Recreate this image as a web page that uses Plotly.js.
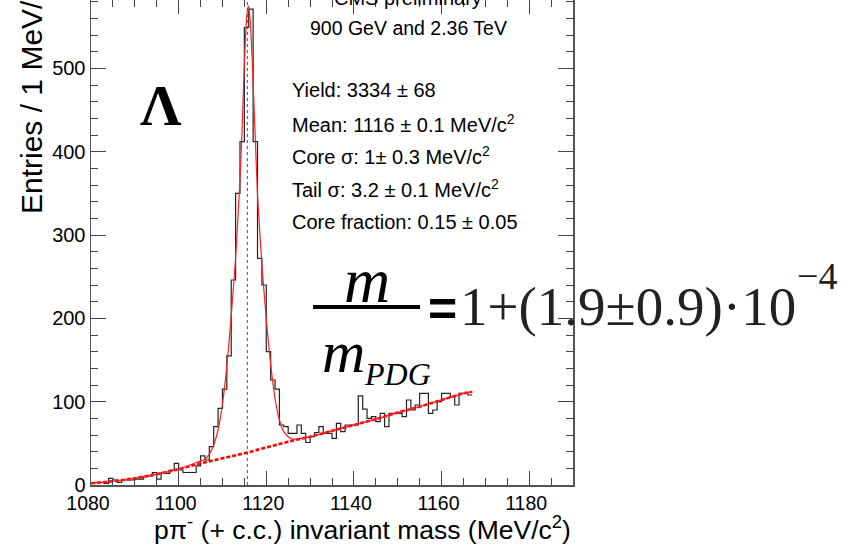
<!DOCTYPE html>
<html><head><meta charset="utf-8">
<script src="https://cdn.plot.ly/plotly-3.0.1.min.js"></script>
<style>html,body{margin:0;padding:0;background:#fff}#chart{width:850px;height:549px}</style>
</head><body><div id="chart"></div>
<script>
// ---- data ----
const massStart = 1080;   // lower edge of first bin (MeV/c^2)
const binWidth = 1;       // 1 MeV bins
const entries = [
  3,3,3,2,8,6,3,6,6,6,
  7,7,10,11,15,7,15,14,18,26,
  18,15,15,15,23,35,30,46,70,92,
  115,155,246,350,412,549,571,412,272,240,
  160,126,115,72,70,62,62,72,62,51,
  58,63,70,62,62,56,74,64,72,72,
  72,107,91,80,82,76,86,70,86,86,
  86,82,102,90,96,110,110,86,90,100,
  110,110,106,96,110,110,108
];
const fitMass  = [1080,1085,1090,1095,1100,1104,1106,1107,1108,1109,1110,1111,1112,1113,1114,1114.5,1115,1115.5,1115.9,1116.3,1116.7,1117,1117.5,1118,1119,1120,1121,1122,1123,1124,1125,1126,1128,1130,1135,1140,1145,1150,1155,1160,1165,1167];
const fitTotal = [2,4.5,8,13,19,27,31,37,48,66,97,143,203,273,366,430,505,560,575,560,520,482,415,348,265,199,145,104,78,64,58,55,56,58,65,72,79,87,94,102,110,112];
const bgMass   = [1080,1085,1090,1095,1100,1105,1110,1115,1120,1125,1130,1135,1140,1145,1150,1155,1160,1165,1167];
const bgValues = [2,4.5,8,13,19,26,32,38,45,52,58,65,72,79,87,94,102,110,112];
const pdgMass = 1115.683;
const xTicks = [1080,1100,1120,1140,1160,1180];
const yTicks = [0,100,200,300,400,500];
const statLines = [
  "Yield: 3334 ± 68",
  "Mean: 1116 ± 0.1 MeV/c<sup>2</sup>",
  "Core σ: 1± 0.3 MeV/c<sup>2</sup>",
  "Tail σ: 3.2 ± 0.1 MeV/c<sup>2</sup>",
  "Core fraction: 0.15 ± 0.05"
];

// ---- geometry helpers ----
const M = {l:91, r:277, t:0, b:64};
const W = 850, H = 549;
const PW = W - M.l - M.r, PH = H - M.t - M.b;
const px = v => (v - M.l) / PW;
const py = v => (H - M.b - v) / PH;
const yTop = 582;

// histogram step arrays
const edges = entries.map((_, i) => massStart + i * binWidth);
edges.push(massStart + entries.length * binWidth);
const stepY = entries.concat([entries[entries.length - 1]]);

const traces = [
  {x: edges, y: stepY, type:'scatter', mode:'lines', line:{shape:'hv', color:'#222', width:1.2}, hoverinfo:'skip'},
  {x: [pdgMass, pdgMass], y: [0, yTop], type:'scatter', mode:'lines', line:{color:'#4a4aff', width:1.1, dash:'dot'}},
  {x: bgMass, y: bgValues, type:'scatter', mode:'lines', line:{color:'#ff0000', width:2.6, dash:'4px,2px'}},
  {x: fitMass, y: fitTotal, type:'scatter', mode:'lines', line:{color:'#ff2020', width:1.2, shape:'spline', smoothing:0.6}}
];

const sans = 'Liberation Sans, Arial, sans-serif';
const serif = 'Liberation Serif, Times New Roman, serif';

const ann = [];
ann.push({xref:'paper', yref:'paper', x:px(161), y:py(105), text:'<b>Λ</b>', showarrow:false,
  font:{family:serif, size:58, color:'#000'}, xanchor:'center', yanchor:'middle'});
ann.push({xref:'paper', yref:'paper', x:px(408), y:py(-2), text:'CMS preliminary', showarrow:false,
  font:{family:sans, size:20, color:'#000'}, xanchor:'center', yanchor:'middle'});
ann.push({xref:'paper', yref:'paper', x:px(408), y:py(28), text:'900 GeV and 2.36 TeV', showarrow:false,
  font:{family:sans, size:19.5, color:'#000'}, xanchor:'center', yanchor:'middle'});
const statY = [90,123,156,189,222];
statLines.forEach((t, i) => ann.push({xref:'paper', yref:'paper', x:px(290), y:py(statY[i]), text:t, showarrow:false,
  font:{family:sans, size:20, color:'#000'}, xanchor:'left', yanchor:'middle'}));
// axis titles
ann.push({xref:'paper', yref:'paper', x:px(362), y:py(528), text:'pπ<sup>-</sup> (+ c.c.) invariant mass (MeV/c<sup>2</sup>)', showarrow:false,
  font:{family:sans, size:26.5, color:'#000'}, xanchor:'center', yanchor:'middle'});
ann.push({xref:'paper', yref:'paper', x:px(29), y:py(216), text:'Entries / 1 MeV/c<sup>2</sup>', showarrow:false, textangle:-90,
  font:{family:sans, size:30, color:'#000'}, xanchor:'center', yanchor:'bottom'});
// equation
ann.push({xref:'paper', yref:'paper', x:px(367), y:py(280), text:'<i>m</i>', showarrow:false,
  font:{family:serif, size:64, color:'#000'}, xanchor:'center', yanchor:'middle'});
ann.push({xref:'paper', yref:'paper', x:px(320), y:py(352), text:'<i>m</i>', showarrow:false,
  font:{family:serif, size:60, color:'#000'}, xanchor:'left', yanchor:'middle'});
ann.push({xref:'paper', yref:'paper', x:px(362), y:py(374), text:'<i>PDG</i>', showarrow:false,
  font:{family:serif, size:32, color:'#000'}, xanchor:'left', yanchor:'middle'});
ann.push({xref:'paper', yref:'paper', x:px(442), y:py(309), text:'<b>=</b>', showarrow:false,
  font:{family:sans, size:50, color:'#000'}, xanchor:'center', yanchor:'middle'});
ann.push({xref:'paper', yref:'paper', x:px(458), y:py(306), text:'1+(1.9±0.9)·10', showarrow:false,
  font:{family:serif, size:55, color:'#222'}, xanchor:'left', yanchor:'middle'});
ann.push({xref:'paper', yref:'paper', x:px(795), y:py(276), text:'−4', showarrow:false,
  font:{family:serif, size:38, color:'#222'}, xanchor:'left', yanchor:'middle'});

const layout = {
  width:W, height:H, margin:M, paper_bgcolor:'#fff', plot_bgcolor:'#fff', showlegend:false,
  xaxis:{range:[1080,1190], tickvals:xTicks, ticktext:xTicks.map(String), ticks:'inside', ticklen:14, tickwidth:1, tickcolor:'#444',
    minor:{dtick:5, ticks:'inside', ticklen:7, tickcolor:'#444', tickwidth:1, showgrid:false},
    showline:true, linecolor:'#555', linewidth:1.5, mirror:'ticks', showgrid:false, zeroline:false,
    ticklabelshift:-3,
    tickfont:{family:sans, size:19.5, color:'#000'}},
  yaxis:{range:[0,yTop], tickvals:yTicks, ticktext:yTicks.map(String), ticks:'inside', ticklen:15, tickwidth:1, tickcolor:'#444',
    minor:{dtick:20, ticks:'inside', ticklen:7, tickcolor:'#444', tickwidth:1, showgrid:false},
    showline:true, linecolor:'#555', linewidth:1.5, mirror:'ticks', showgrid:false, zeroline:false,
    tickfont:{family:sans, size:20, color:'#000'}},
  annotations: ann,
  shapes:[{type:'line', xref:'paper', yref:'paper', x0:px(313), x1:px(420), y0:py(307), y1:py(307), line:{color:'#000', width:4}}]
};
Plotly.newPlot('chart', traces, layout, {staticPlot:true});
</script></body></html>
